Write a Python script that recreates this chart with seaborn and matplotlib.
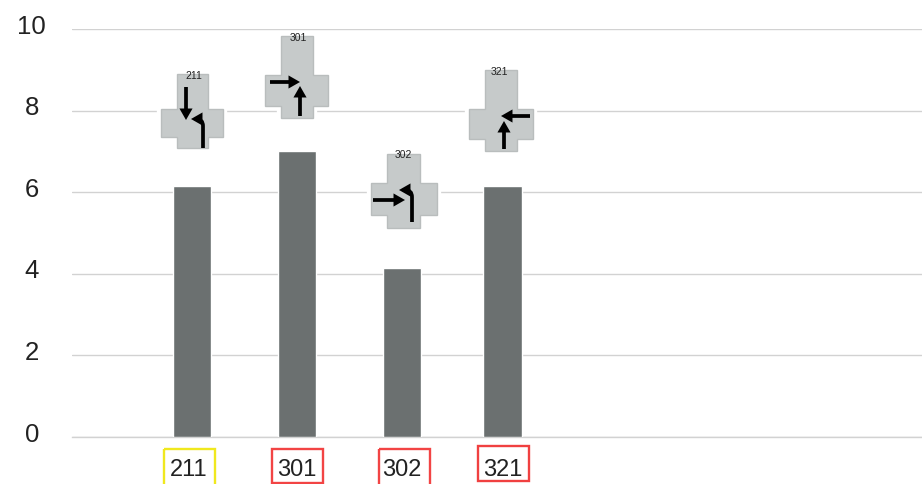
import matplotlib
matplotlib.use("Agg")
import matplotlib.pyplot as plt
import matplotlib.patches as mpatches
from matplotlib.path import Path
from matplotlib.transforms import ScaledTranslation
import pandas as pd
import seaborn as sns

# chart values
intersections = ["211", "301", "302", "321"]
counts = [6.15, 7.02, 4.15, 6.15]
slots = [1, 2, 3, 3.96]
y_ticks = [0, 2, 4, 6, 8, 10]
box_colors = ["#f0e81e", "#f24444", "#f24444", "#f04040"]

sns.set_style("white")
plt.rcParams["font.family"] = ["Liberation Sans", "DejaVu Sans"]

df = pd.DataFrame({"slot": slots, "count": counts})

W, H = 922, 484
fig = plt.figure(figsize=(W / 100, H / 100), dpi=100)
ax = fig.add_axes([72 / W, (H - 437) / H, (W - 72) / W, (437 - 29) / H])

sns.barplot(data=df, x="slot", y="count", native_scale=True, width=0.385,
            color="#6b7070", saturation=1, ax=ax, zorder=3)

ax.set_xlim(1 - 120 / 105, 1 + 730 / 105)
ax.set_ylim(0, 10)
ax.set_xlabel("")
ax.set_ylabel("")
ax.set_axisbelow(True)
ax.yaxis.grid(True, color="#d2d2d2", lw=1)
ax.xaxis.grid(False)
for name, sp in ax.spines.items():
    sp.set_visible(name == "bottom")
ax.spines["bottom"].set_color("#d2d2d2")
ax.spines["bottom"].set_linewidth(1)

ax.set_yticks(y_ticks)
ax.set_yticklabels([str(v) for v in y_ticks])
ax.tick_params(axis="y", length=0, pad=29, labelsize=18.5, labelcolor="#222222")
up = ScaledTranslation(0, 3.5 / 72, fig.dpi_scale_trans)
for lab in ax.get_yticklabels():
    lab.set_ha("center")
    lab.set_transform(lab.get_transform() + up)

ax.set_xticks(slots)
ax.set_xticklabels(intersections)
ax.tick_params(axis="x", length=0, pad=15.5, labelsize=17, labelcolor="#222222")
# the 211 label sits a little left of its bar
first = ax.get_xticklabels()[0]
first.set_transform(first.get_transform() + ScaledTranslation(-2.5 / 72, 0, fig.dpi_scale_trans))

# overlay in pixel coordinates for the pasted intersection icons and label boxes
ov = fig.add_axes([0, 0, 1, 1], facecolor="none")
ov.set_xlim(0, W)
ov.set_ylim(H, 0)
ov.axis("off")


def cross(x0, x1, x2, x3, y0, y1, y2, y3, label, lx, ly):
    pts = [(x1, y0), (x2, y0), (x2, y1), (x3, y1), (x3, y2), (x2, y2),
           (x2, y3), (x1, y3), (x1, y2), (x0, y2), (x0, y1), (x1, y1)]
    ov.add_patch(mpatches.Polygon(pts, closed=True, fc="white", ec="white", lw=6))
    ov.add_patch(mpatches.Polygon(pts, closed=True, fc="#c6caca", ec="#b9bdbd", lw=1))
    ov.text(lx, ly, label, fontsize=7.5, color="#222222", ha="center", va="center")


def arrow(verts, codes=None):
    p = Path(verts, codes) if codes else Path(verts)
    ov.add_patch(mpatches.FancyArrowPatch(
        path=p, arrowstyle="-|>,head_length=0.42,head_width=0.24",
        mutation_scale=10, lw=2.7, color="black", joinstyle="miter",
        capstyle="butt"))


def turn_left(x, y0, y1, xe):
    verts = [(x, y0), (x, y1 + 7), (x, y1), (x - 7, y1), (xe, y1)]
    codes = [Path.MOVETO, Path.LINETO, Path.CURVE3, Path.CURVE3, Path.LINETO]
    arrow(verts, codes)


# 211
cross(161, 177, 208, 223, 74, 109, 137, 148, "211", 193.5, 76)
arrow([(186, 87), (186, 120)])
turn_left(203, 148, 119, 191)
# 301
cross(265, 281, 313, 328, 36, 75, 106, 118, "301", 298, 38)
arrow([(270, 82), (300, 82)])
arrow([(300, 116), (300, 86)])
# 302
cross(371, 387, 420, 437, 154, 183, 215, 228, "302", 403, 155)
arrow([(373, 200), (405, 200)])
turn_left(412, 222, 190, 399)
# 321
cross(469, 485, 517, 533, 70, 109, 139, 151, "321", 499, 72)
arrow([(530, 116), (501, 116)])
arrow([(504, 149), (504, 121)])

# coloured boxes round the tick labels, running off the bottom edge
boxes = [(164, 215, 449, 486), (272, 323, 449, 483), (379, 430, 449, 486), (478, 529, 446, 481)]
for (x0, x1, y0, y1), c in zip(boxes, box_colors):
    ov.add_patch(mpatches.Rectangle((x0, y0), x1 - x0, y1 - y0, fc="none", ec=c, lw=1.7))

fig.savefig("out.png", dpi=100)
